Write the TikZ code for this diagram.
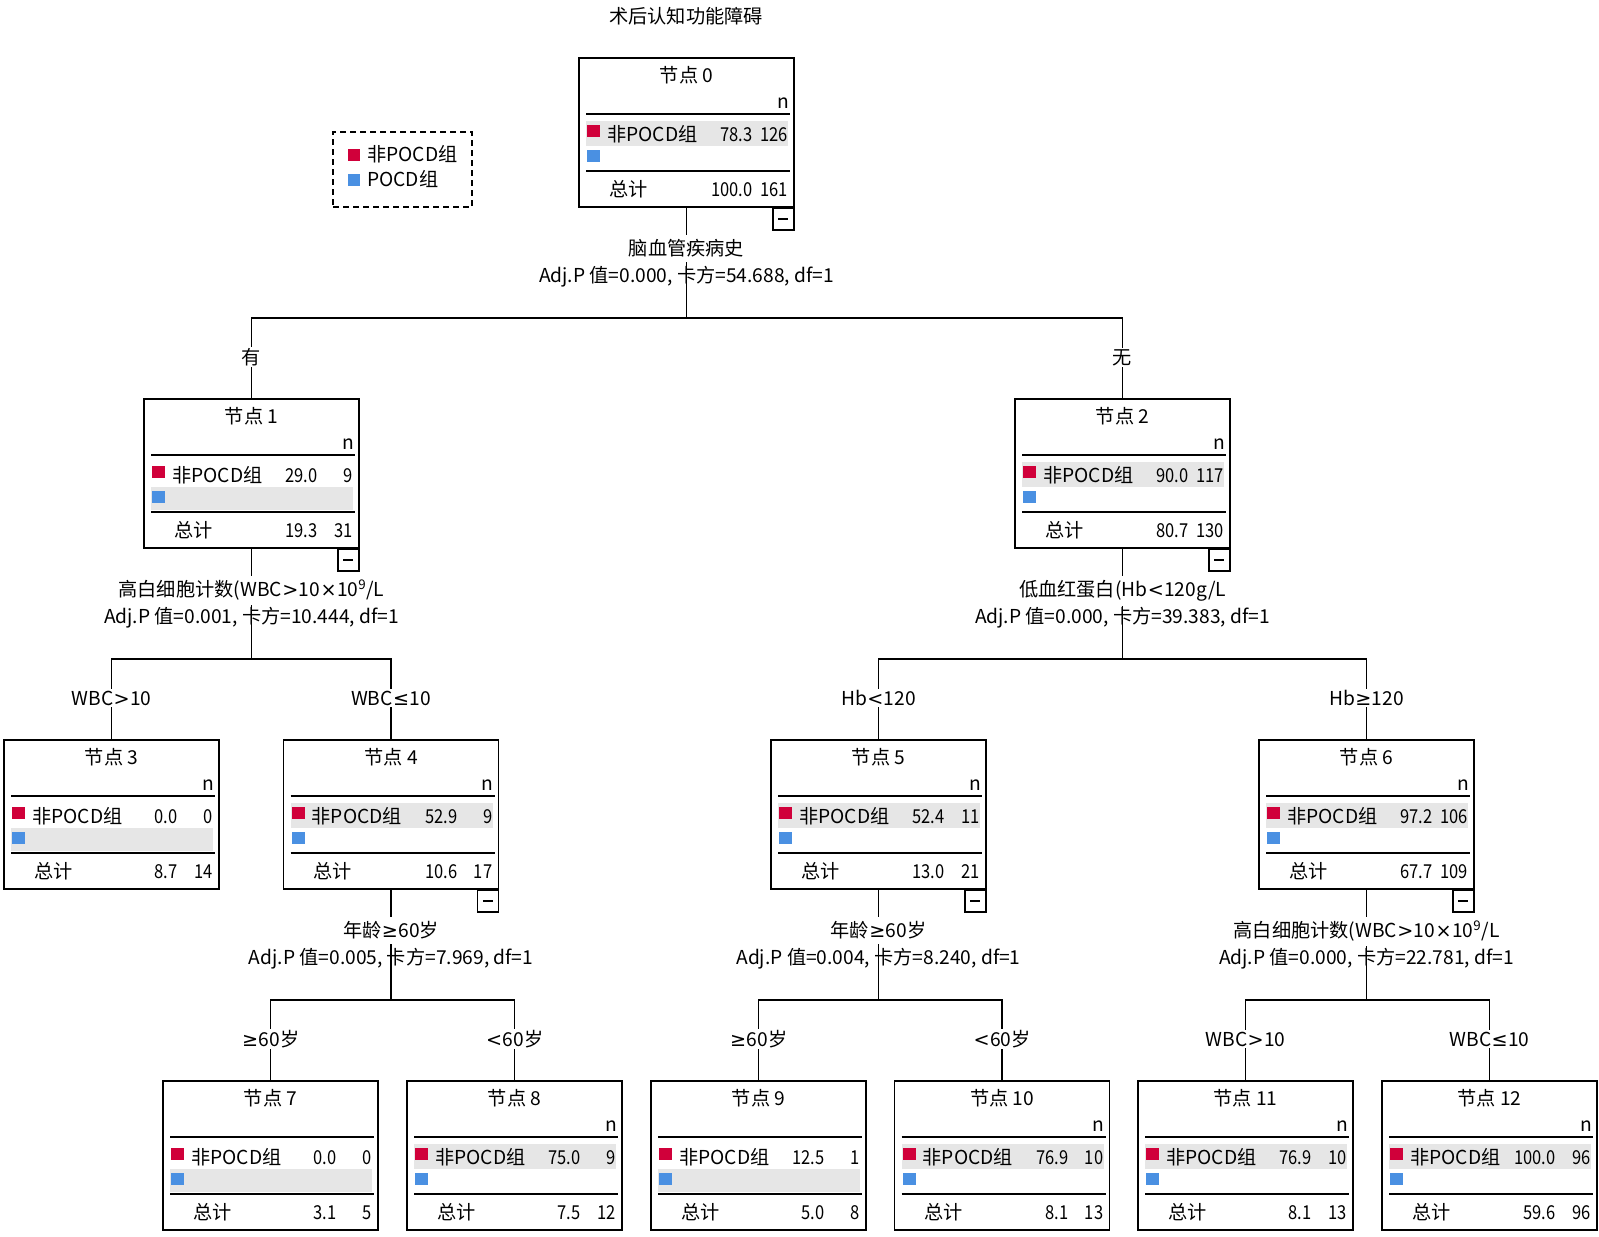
\documentclass[tikz,border=0pt]{standalone}
\usepackage{fontspec}
\setmainfont{Noto Sans CJK SC}
\newfontfamily\symf{DejaVu Sans}
\newfontfamily\numf[FakeStretch=0.86]{Noto Sans CJK SC}
\usetikzlibrary{calc}
\definecolor{cred}{RGB}{208,0,58}
\definecolor{cblue}{RGB}{74,144,226}
\definecolor{cgrey}{RGB}{230,230,230}
\newcommand\GT{{\symf\kern0.3pt>\kern0.3pt}}
\newcommand\LT{{\symf\kern0.3pt<\kern0.3pt}}
\newcommand\GE{{\symf\kern0.3pt≥\kern0.3pt}}
\newcommand\LE{{\symf\kern0.3pt≤\kern0.3pt}}
\newcommand\TIMES{{\symf\kern0.3pt×\kern0.3pt}}
\tikzset{
  txt/.style={font=\fontsize{14.4pt}{17pt}\selectfont, inner sep=0pt},
  num/.style={font=\fontsize{14.4pt}{17pt}\selectfont\numf, inner sep=0pt},
  tbox/.style={draw, line width=1.3pt, minimum width=161.25pt, minimum height=111.75pt, inner sep=0pt},
  sepline/.style={line width=1.3pt},
  conn/.style={line width=1.3pt},
  maskA/.style={txt, fill=white, inner xsep=2pt, inner ysep=3.5pt},
  maskB/.style={txt, fill=white, inner xsep=2pt, inner ysep=1pt},
  minusbox/.style={draw, line width=1.3pt, minimum width=15.75pt, minimum height=16.5pt, inner sep=0pt},
  legendbox/.style={draw, line width=1.5pt, dash pattern=on 4.5pt off 3pt, minimum width=104.25pt, minimum height=56.25pt, inner sep=0pt},
}
% #1 name, #2 cx, #3 cy, #4 number, #5 pct, #6 n, #7 total pct, #8 total n, #9 highlighted row
\newcommand\TreeBox[9]{%
  \node[tbox] (#1) at (#2,#3) {};
  \begin{scope}[shift={(#1.north)}]
    \ifnum#9=1
      \fill[cgrey] (-100.5,64) rectangle (101.5,89);
    \else
      \fill[cgrey] (-100.5,89) rectangle (101.5,112);
    \fi
    \node[txt, anchor=base] (#1-h) at (0,25) {节点 #4};
    \draw[sepline] (-100.5,57) -- (103.5,57);
    \fill[cred] (-99.5,68) rectangle (-86.5,80);
    \node[txt, anchor=base west] (#1-a) at (-79.5,84) {非POCD组};
    \node[num, anchor=base east] (#1-p) at (66.5,84) {#5};
    \node[num, anchor=base east] (#1-c) at (101.5,84) {#6};
    \fill[cblue] (-99.5,93) rectangle (-86.5,105);
    \draw[sepline] (-100.5,114) -- (103.5,114);
    \node[txt, anchor=base west] (#1-t) at (-77.5,139) {总计};
    \node[num, anchor=base east] (#1-tp) at (66.5,139) {#7};
    \node[num, anchor=base east] (#1-tc) at (101.5,139) {#8};
  \end{scope}}
\newcommand\NHead[1]{%
  \begin{scope}[shift={(#1.north)}]
    \node[txt, anchor=base east] (#1-n) at (102.5,51) {n};
  \end{scope}}
\newcommand\MinusMark[1]{%
  \begin{scope}[shift={(#1.south east)}]
    \node[minusbox] (#1-m) at (-11.5,11) {};
    \draw[line width=1.3pt] ($(#1-m.center)+(-5,0)$) -- ($(#1-m.center)+(5,0)$);
  \end{scope}}
% #1 parent, #2 left child, #3 right child, #4 label 1, #5 label 2, #6 left branch, #7 right branch
\newcommand\Split[7]{%
  \coordinate (#1-bar) at ($(#1.south)+(0,110)$);
  \draw[conn] (#1.south) -- (#1-bar);
  \draw[conn] (#2.north) |- (#1-bar) -| (#3.north);
  \node[maskA, anchor=base] (#1-l1) at ($(#1.south)+(0,48)$) {#4};
  \node[txt, anchor=base] (#1-l2) at ($(#1.south)+(0,75)$) {#5};
  \node[maskB, anchor=base] (#2-br) at ($(#2.north)+(0,-34)$) {#6};
  \node[maskB, anchor=base] (#3-br) at ($(#3.north)+(0,-34)$) {#7};}
\begin{document}
\begin{tikzpicture}[x=0.75pt,y=-0.75pt]
\useasboundingbox[fill=white] (0,0) rectangle (1599,1236);

\node[txt, anchor=base] (title) at (686,23) {术后认知功能障碍};

% legend
\node[legendbox] (legend) at (402.5,169.5) {};
\fill[cred] (348,149) rectangle (360,161);
\node[txt, anchor=base west] (leg1) at (367,161) {非POCD组};
\fill[cblue] (348,174) rectangle (360,186);
\node[txt, anchor=base west] (leg2) at (367,186) {POCD组};

% level 0
\TreeBox{n0}{686.5}{132.5}{0}{78.3}{126}{100.0}{161}{1}
% level 1
\TreeBox{n1}{251.5}{473.5}{1}{29.0}{9}{19.3}{31}{2}
\TreeBox{n2}{1122.5}{473.5}{2}{90.0}{117}{80.7}{130}{1}
% level 2
\TreeBox{n3}{111.5}{814.5}{3}{0.0}{0}{8.7}{14}{2}
\TreeBox{n4}{391}{814.5}{4}{52.9}{9}{10.6}{17}{1}
\TreeBox{n5}{878.5}{814.5}{5}{52.4}{11}{13.0}{21}{1}
\TreeBox{n6}{1366.5}{814.5}{6}{97.2}{106}{67.7}{109}{1}
% level 3
\TreeBox{n7}{270.5}{1155.5}{7}{0.0}{0}{3.1}{5}{2}
\TreeBox{n8}{514.5}{1155.5}{8}{75.0}{9}{7.5}{12}{1}
\TreeBox{n9}{758.5}{1155.5}{9}{12.5}{1}{5.0}{8}{2}
\TreeBox{n10}{1002}{1155.5}{10}{76.9}{10}{8.1}{13}{1}
\TreeBox{n11}{1245.5}{1155.5}{11}{76.9}{10}{8.1}{13}{1}
\TreeBox{n12}{1489.5}{1155.5}{12}{100.0}{96}{59.6}{96}{1}

\foreach \nn in {n0,n1,n2,n3,n4,n5,n6,n8,n10,n11,n12} {\NHead{\nn}}
\foreach \nn in {n0,n1,n2,n4,n5,n6} {\MinusMark{\nn}}

\Split{n0}{n1}{n2}{脑血管疾病史}{Adj.P 值=0.000, 卡方=54.688, df=1}{有}{无}
\Split{n1}{n3}{n4}{高白细胞计数(WBC\GT10\TIMES10\textsuperscript{9}/L}{Adj.P 值=0.001, 卡方=10.444, df=1}{WBC\GT10}{WBC\LE10}
\Split{n2}{n5}{n6}{低血红蛋白(Hb\LT120g/L}{Adj.P 值=0.000, 卡方=39.383, df=1}{Hb\LT120}{Hb\GE120}
\Split{n4}{n7}{n8}{年龄\GE60岁}{Adj.P 值=0.005, 卡方=7.969, df=1}{\GE60岁}{\LT60岁}
\Split{n5}{n9}{n10}{年龄\GE60岁}{Adj.P 值=0.004, 卡方=8.240, df=1}{\GE60岁}{\LT60岁}
\Split{n6}{n11}{n12}{高白细胞计数(WBC\GT10\TIMES10\textsuperscript{9}/L}{Adj.P 值=0.000, 卡方=22.781, df=1}{WBC\GT10}{WBC\LE10}
\end{tikzpicture}
\end{document}
